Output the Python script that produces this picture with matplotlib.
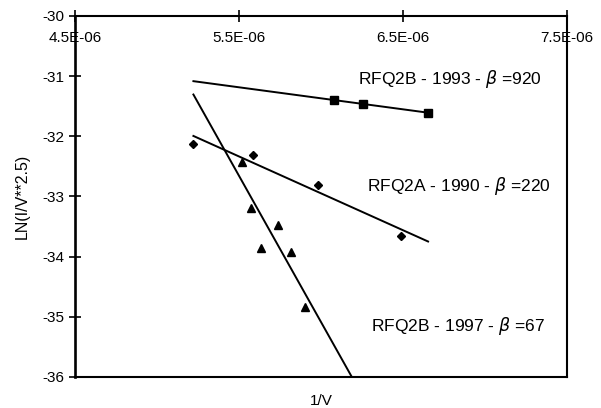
import numpy as np
import matplotlib.pyplot as plt

plt.rcParams['font.family'] = ['Liberation Sans', 'DejaVu Sans']

# RFQ2B - 1993 (squares)
x_1993 = np.array([6.081e-6, 6.259e-6, 6.653e-6])
y_1993 = np.array([-31.395, -31.467, -31.606])

# RFQ2A - 1990 (diamonds)
x_1990 = np.array([5.222e-6, 5.584e-6, 5.98e-6, 6.488e-6])
y_1990 = np.array([-32.13, -32.31, -32.81, -33.65])

# RFQ2B - 1997 (triangles)
x_1997 = np.array([5.518e-6, 5.574e-6, 5.635e-6, 5.737e-6, 5.819e-6, 5.901e-6])
y_1997 = np.array([-32.42, -33.19, -33.86, -33.47, -33.92, -34.83])

x_ticks = [4.5e-6, 5.5e-6, 6.5e-6, 7.5e-6]
x_tick_labels = ['4.5E-06', '5.5E-06', '6.5E-06', '7.5E-06']
y_ticks = [-30, -31, -32, -33, -34, -35, -36]

fig = plt.figure(figsize=(6.01, 4.08), dpi=100)
ax = fig.add_axes([0.1248, 0.076, 0.8186, 0.8848])

# linear trendlines over the full span of the data
all_x = np.concatenate([x_1993, x_1990, x_1997])
xfit = np.array([all_x.min(), all_x.max()])
for xs, ys, m, ms in [(x_1993, y_1993, 's', 5.2),
                      (x_1990, y_1990, 'D', 4.3),
                      (x_1997, y_1997, '^', 6.3)]:
    k, b = np.polyfit(xs, ys, 1)
    ax.plot(xfit, k * xfit + b, color='black', lw=1.4)
    ax.plot(xs, ys, m, color='black', ms=ms, ls='none')

ax.set_xlim(4.5e-6, 7.5e-6)
ax.set_ylim(-36, -30)
ax.set_xticks(x_ticks)
ax.set_xticklabels(x_tick_labels)
ax.set_yticks(y_ticks)
ax.set_yticklabels([str(v) for v in y_ticks])

ax.tick_params(axis='x', top=True, bottom=False, labeltop=True, labelbottom=False,
               direction='inout', length=8, width=1.2, pad=-25, labelsize=11)
ax.tick_params(axis='y', direction='inout', length=8, width=1.2, labelsize=11, pad=4)

for s in ax.spines.values():
    s.set_linewidth(1.5)
ax.spines['left'].set_linewidth(1.9)

ax.set_ylabel('LN(I/V**2.5)', fontsize=11.5, labelpad=9)
ax.set_xlabel('1/V', fontsize=11, labelpad=12)

ax.text(6.225e-6, -31.05, r'RFQ2B - 1993 - $\beta$ =920', fontsize=12.5, va='center')
ax.text(6.28e-6, -32.82, r'RFQ2A - 1990 - $\beta$ =220', fontsize=12.5, va='center')
ax.text(6.305e-6, -35.15, r'RFQ2B - 1997 - $\beta$ =67', fontsize=12.5, va='center')

fig.savefig('out.png', dpi=100)
